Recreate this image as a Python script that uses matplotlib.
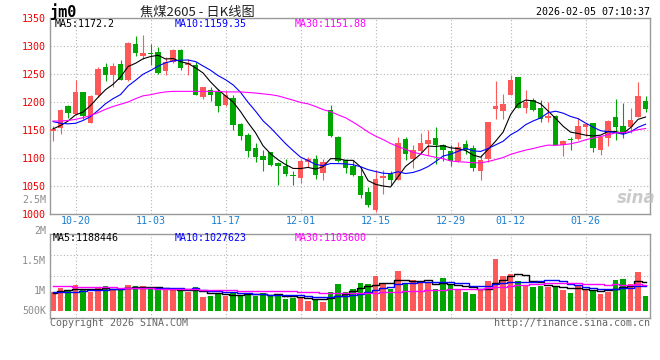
import numpy as np
import pandas as pd
import matplotlib
matplotlib.use("Agg")
import matplotlib.pyplot as plt

# ---------------------- data ----------------------
dates = [
    "10-15", "10-16", "10-17", "10-20", "10-21", "10-22", "10-23", "10-24", "10-27", "10-28",
    "10-29", "10-30", "10-31", "11-03", "11-04", "11-05", "11-06", "11-07", "11-10", "11-11",
    "11-12", "11-13", "11-14", "11-17", "11-18", "11-19", "11-20", "11-21", "11-24", "11-25",
    "11-26", "11-27", "11-28", "12-01", "12-02", "12-03", "12-04", "12-05", "12-08", "12-09",
    "12-10", "12-11", "12-12", "12-15", "12-16", "12-17", "12-18", "12-19", "12-22", "12-23",
    "12-24", "12-25", "12-26", "12-29", "12-30", "12-31", "01-05", "01-06", "01-07", "01-08",
    "01-09", "01-12", "01-13", "01-14", "01-15", "01-16", "01-19", "01-20", "01-21", "01-22",
    "01-23", "01-26", "01-27", "01-28", "01-29", "01-30", "02-02", "02-03", "02-04", "02-05",
]
opens = [
    1149, 1154, 1192, 1178, 1217, 1163, 1212, 1262, 1248, 1267,
    1240, 1304, 1282, 1287, 1290, 1256, 1272, 1292, 1266, 1266,
    1209, 1221, 1217, 1195, 1208, 1161, 1141, 1118, 1104, 1111,
    1091, 1086, 1070, 1065, 1093, 1099, 1074, 1186, 1138, 1096,
    1085, 1067, 1040, 1007, 1065, 1071, 1061, 1134, 1099, 1113,
    1125, 1136, 1123, 1113, 1095, 1125, 1117, 1077, 1099, 1188,
    1184, 1212, 1245, 1190, 1204, 1189, 1171, 1175, 1123, 1134,
    1134, 1155, 1162, 1115, 1135, 1173, 1157, 1155, 1174, 1201,
]
closes = [
    1152, 1186, 1180, 1217, 1175, 1211, 1259, 1248, 1265, 1240,
    1305, 1288, 1288, 1285, 1251, 1272, 1292, 1260, 1269, 1212,
    1226, 1212, 1192, 1212, 1159, 1139, 1113, 1102, 1096, 1088,
    1085, 1071, 1067, 1095, 1098, 1070, 1092, 1139, 1095, 1083,
    1070, 1034, 1016, 1062, 1068, 1061, 1126, 1108, 1114, 1126,
    1132, 1123, 1115, 1095, 1119, 1115, 1082, 1096, 1165, 1192,
    1196, 1239, 1190, 1200, 1186, 1169, 1175, 1124, 1130, 1133,
    1157, 1160, 1117, 1137, 1166, 1156, 1144, 1168, 1211, 1187,
]
highs = [
    1157, 1188, 1195, 1239, 1218, 1212, 1262, 1269, 1270, 1275,
    1308, 1318, 1320, 1304, 1298, 1281, 1294, 1294, 1276, 1272,
    1227, 1226, 1224, 1220, 1213, 1162, 1144, 1126, 1114, 1111,
    1092, 1099, 1076, 1099, 1102, 1105, 1099, 1195, 1139, 1099,
    1096, 1085, 1049, 1079, 1079, 1076, 1138, 1138, 1123, 1145,
    1150, 1155, 1125, 1123, 1129, 1133, 1123, 1105, 1165, 1238,
    1214, 1248, 1245, 1222, 1207, 1203, 1200, 1177, 1133, 1137,
    1171, 1162, 1163, 1139, 1168, 1205, 1199, 1190, 1236, 1210,
]
lows = [
    1131, 1142, 1171, 1176, 1170, 1162, 1209, 1238, 1227, 1239,
    1238, 1282, 1276, 1266, 1250, 1248, 1269, 1258, 1248, 1212,
    1205, 1202, 1183, 1192, 1150, 1132, 1102, 1093, 1077, 1086,
    1052, 1067, 1052, 1056, 1084, 1062, 1060, 1138, 1093, 1074,
    1067, 1028, 1013, 1004, 1036, 1052, 1060, 1096, 1083, 1108,
    1105, 1089, 1095, 1085, 1092, 1108, 1077, 1061, 1092, 1169,
    1169, 1212, 1189, 1181, 1184, 1165, 1165, 1123, 1104, 1115,
    1132, 1139, 1110, 1105, 1121, 1133, 1135, 1145, 1173, 1183,
]
volumes = [
    980000, 1050000, 1000000, 1100000, 1030000, 990000, 1060000, 1080000, 1030000, 1020000,
    1100000, 1080000, 1080000, 1060000, 1020000, 1020000, 1020000, 1000000, 990000, 1070000,
    900000, 910000, 950000, 910000, 990000, 920000, 970000, 920000, 970000, 910000,
    950000, 870000, 890000, 900000, 840000, 850000, 820000, 990000, 1120000, 990000,
    1040000, 1130000, 1120000, 1250000, 1130000, 1040000, 1340000, 1130000, 1180000, 1130000,
    1130000, 1040000, 1210000, 1110000, 1040000, 990000, 950000, 1040000, 1170000, 1530000,
    1250000, 1280000, 1170000, 1100000, 1070000, 1090000, 1070000, 1090000, 1020000, 970000,
    1090000, 1020000, 1000000, 950000, 990000, 1180000, 1200000, 1120000, 1310000, 910000,
]

# moving averages at the left edge (their windows start before the visible range)
ma5_head = [1152, 1158, 1166, 1177]
ma10_head = [1165, 1162, 1161, 1162, 1167, 1174, 1185, 1197, 1206]
ma30_head = [1166, 1166, 1167, 1169, 1172, 1176, 1181, 1187, 1192, 1196,
             1200, 1206, 1211, 1213, 1216, 1218, 1219, 1219, 1219, 1219,
             1219, 1219, 1219, 1218, 1218, 1218, 1217, 1216, 1214.5]
vol_ma5_head = [970000, 1000000, 1010000, 1030000]
vol_ma10_head = [980000, 980000, 990000, 990000, 1000000, 1010000, 1020000, 1020000, 1030000]
vol_ma30_head = [1083000, 1083000, 1080000, 1075000, 1070000, 1070000, 1068000, 1063000, 1060000, 1058000,
                 1050000, 1047000, 1045000, 1043000, 1040000, 1035000, 1033000, 1032000, 1030000, 1028000,
                 1020000, 1018000, 1015000, 1013000, 1010000, 1008000, 1007000, 1006000, 1005000]

tick_dates = ["10-20", "11-03", "11-17", "12-01", "12-15", "12-29", "01-12", "01-26"]
price_ticks = [1000, 1050, 1100, 1150, 1200, 1250, 1300, 1350]
vol_labels = ["2M", "1.5M", "1M", "500K"]
vol_label_values = [2000000, 1500000, 1000000, 666667]
vol_floor = 666667

price_legend = ["MA5:1172.2", "MA10:1159.35", "MA30:1151.88"]
vol_legend = ["MA5:1188446", "MA10:1027623", "MA30:1103600"]

# ---------------------- styles ----------------------
RED = "#ff5858"
GREEN = "#00a600"
MA_COLORS = ["black", "#0000ff", "#ff00ff"]
GRID = "#b4b4b4"
FRAME = "#9a9a9a"
MONO = "DejaVu Sans Mono"

W, H = 660, 360


def px(x, y):
    return x / W, 1 - y / H


def with_head(series, n, head):
    ma = pd.Series(series, dtype=float).rolling(n).mean()
    ma.iloc[:len(head)] = head
    return ma.values


x = np.arange(len(dates))
o = np.array(opens, float)
c = np.array(closes, float)
h = np.array(highs, float)
l = np.array(lows, float)
v = np.array(volumes, float)
colors = np.where(c >= o, RED, GREEN)

fig = plt.figure(figsize=(6.6, 3.6), dpi=100)
ax = fig.add_axes([49.7 / W, 1 - 214 / H, 600 / W, 196 / H])
axv = fig.add_axes([49.7 / W, 1 - 318 / H, 600 / W, 84 / H])

tick_pos = [dates.index(d) for d in tick_dates]

for a in (ax, axv):
    a.set_xlim(-0.45, 79.55)
    for s in a.spines.values():
        s.set_color(FRAME)
        s.set_linewidth(1.0)
    a.set_xticks(tick_pos)
    a.grid(True, linestyle=(0, (1, 2)), color=GRID, linewidth=0.8)
    a.set_axisbelow(True)
    a.tick_params(length=0)

# ---------------------- price panel ----------------------
ax.vlines(x, l, h, colors=colors, linewidth=0.8, zorder=2)
ax.bar(x, np.maximum(np.abs(c - o), 0.9), bottom=np.minimum(o, c), width=0.76,
       color=colors, linewidth=0, zorder=3)

for n, head, col in zip([5, 10, 30], [ma5_head, ma10_head, ma30_head], MA_COLORS):
    ax.plot(x, with_head(closes, n, head), color=col, linewidth=0.8, zorder=4)

ax.set_ylim(1000, 1350)
ax.set_yticks(price_ticks)
ax.set_yticklabels([str(t) for t in price_ticks], color="#ee0000", fontsize=7.2, family=MONO)
ax.set_xticklabels(tick_dates, color="#1a7fd0", fontsize=7.2, family=MONO)
ax.tick_params(axis="y", pad=2.6)
ax.tick_params(axis="x", pad=1.6)

for txt, xx, col in zip(price_legend, [55, 175, 295], MA_COLORS):
    fig.text(*px(xx, 24), txt, color=col, fontsize=7.2, family=MONO, va="center", ha="left")

fig.text(*px(636, 198), "sina", color="#bdbdbd", fontsize=12, fontstyle="italic",
         fontweight="bold", ha="center", va="center", alpha=0.8)

# ---------------------- volume panel ----------------------
axv.bar(x, v - vol_floor, bottom=vol_floor, width=0.76, color=colors, linewidth=0, zorder=2)
for n, head, col in zip([5, 10, 30], [vol_ma5_head, vol_ma10_head, vol_ma30_head], MA_COLORS):
    axv.plot(x, with_head(volumes, n, head), color=col, linewidth=1.0,
             drawstyle="steps-mid", zorder=3)

axv.set_ylim(550000, 1950000)
axv.set_yticks([900000, 1250000, 1600000])
axv.set_yticklabels([])
axv.set_xticklabels([])

ytr = axv.get_yaxis_transform()
for lab, val in zip(vol_labels, vol_label_values):
    axv.text(-0.006, val, lab, transform=ytr, ha="right", va="center", color="#8c8c8c",
             fontsize=7.2, family=MONO, clip_on=False)

for txt, xx, col in zip(vol_legend, [53, 175, 295], MA_COLORS):
    fig.text(*px(xx, 238), txt, color=col, fontsize=7.2, family=MONO, va="center", ha="left")

# ---------------------- header / footer ----------------------
fig.text(*px(50, 12), "jm0", fontsize=11, fontweight="bold", family=MONO, va="center", ha="left")
fig.text(*px(140, 12), "焦煤2605 - 日K线图", fontsize=9.5, family=["Noto Sans CJK SC", "DejaVu Sans"],
         va="center", ha="left", color="#222222")
fig.text(*px(650, 12), "2026-02-05 07:10:37", fontsize=7.2, family=MONO, va="center", ha="right")
fig.text(*px(46, 200), "2.5M", fontsize=7.2, family=MONO, va="center", ha="right", color="#8c8c8c")
fig.text(*px(50, 323), "Copyright 2026 SINA.COM", fontsize=7.2, family=MONO, va="center",
         ha="left", color="#666666")
fig.text(*px(650, 323), "http://finance.sina.com.cn", fontsize=7.2, family=MONO, va="center",
         ha="right", color="#666666")

fig.savefig("out.png", dpi=100, facecolor="white")
